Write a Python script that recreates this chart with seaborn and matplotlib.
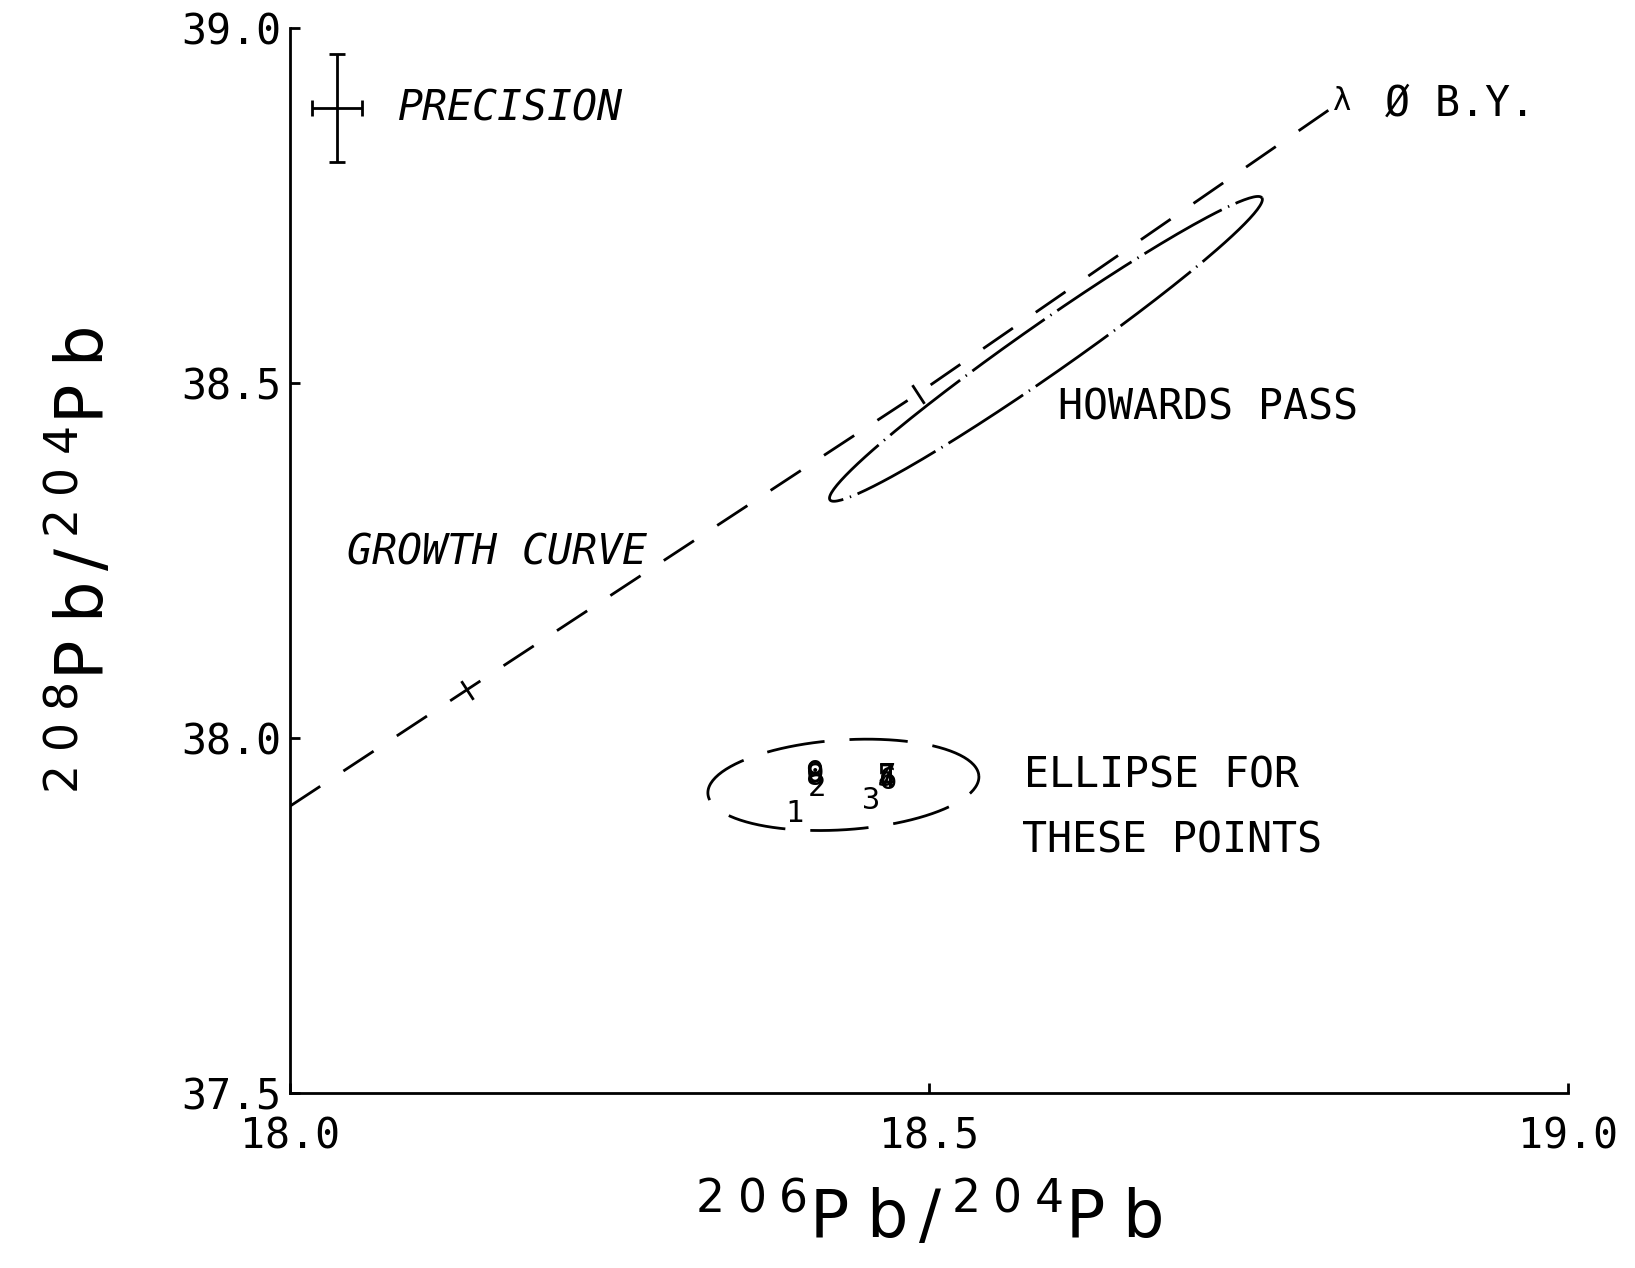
import numpy as np
import pandas as pd
import matplotlib
matplotlib.use("Agg")
import matplotlib.pyplot as plt
import seaborn as sns

# growth curve (206Pb/204Pb, 208Pb/204Pb)
growth_x = [18.0, 18.1385, 18.491, 18.823]
growth_y = [37.904, 38.068, 38.4845, 38.897]
# age ticks on the growth curve
tick_x = [18.1385, 18.491]
tick_y = [38.068, 38.4845]

# Howards Pass ellipse: centre, major half-axis, minor half-axis (data units)
hp_center = [18.5915, 38.548]
hp_major = [0.169, 0.2127]
hp_minor = [0.0112, -0.0289]

# ellipse for the numbered samples
pts_center = [18.433, 37.934]
pts_major = [0.106, 0.013]
pts_minor = [-0.003, 0.063]

# numbered samples
sample_ids = ["1", "2", "3", "4", "5", "6", "7", "8", "9", "0"]
sample_x = [18.395, 18.412, 18.455, 18.467, 18.466, 18.468, 18.467, 18.411, 18.410, 18.411]
sample_y = [37.893, 37.930, 37.912, 37.942, 37.944, 37.940, 37.946, 37.946, 37.948, 37.950]

# precision cross
prec_x, prec_y = 18.0368, 38.887
prec_dx, prec_dy = 0.0196, 0.076

x_ticks = [18.0, 18.5, 19.0]
y_ticks = [37.5, 38.0, 38.5, 39.0]


def ellipse_frame(center, major, minor, n=200):
    t = np.linspace(0, 2 * np.pi, n)
    return pd.DataFrame({
        "x": center[0] + major[0] * np.cos(t) + minor[0] * np.sin(t),
        "y": center[1] + major[1] * np.cos(t) + minor[1] * np.sin(t),
    })


sns.set_theme(style="white")
plt.rcParams.update({
    "font.family": ["DejaVu Sans Mono", "DejaVu Sans"],
    "mathtext.fontset": "dejavusans",
    "text.color": "black",
    "axes.labelcolor": "black",
    "xtick.color": "black",
    "ytick.color": "black",
})

fig = plt.figure(figsize=(16.35, 12.68), dpi=100)
ax = fig.add_axes([0.1774, 0.138, 0.7816, 0.840])

lw = 2.0
growth = pd.DataFrame({"x": growth_x, "y": growth_y})
sns.lineplot(data=growth, x="x", y="y", ax=ax, sort=False, estimator=None,
             color="black", linewidth=lw, linestyle=(0, (13, 10)))
ax.plot(tick_x, tick_y, linestyle="none", marker=(2, 0, 33), markersize=16,
        markeredgewidth=lw, color="black")
ax.text(growth_x[-1], growth_y[-1], "λ", ha="center", va="center", fontsize=22)

hp = ellipse_frame(hp_center, hp_major, hp_minor)
sns.lineplot(data=hp, x="x", y="y", ax=ax, sort=False, estimator=None,
             color="black", linewidth=lw, linestyle=(0, (32, 2.5, 0.5, 2.5)))

pe = ellipse_frame(pts_center, pts_major, pts_minor)
sns.lineplot(data=pe, x="x", y="y", ax=ax, sort=False, estimator=None,
             color="black", linewidth=lw, linestyle=(0, (21, 9)))

for sid, sx, sy in zip(sample_ids, sample_x, sample_y):
    ax.text(sx, sy, sid, ha="center", va="center", fontsize=22, color="black")

ax.errorbar([prec_x], [prec_y], xerr=[prec_dx], yerr=[prec_dy], fmt="none",
            ecolor="black", elinewidth=lw, capsize=6, capthick=lw)

# annotations
ax.text(18.0845, 38.887, "PRECISION", style="italic", fontsize=30, va="center")
ax.text(18.0446, 38.2606, "GROWTH CURVE", style="italic", fontsize=30, va="center")
ax.text(18.601, 38.466, "HOWARDS PASS", fontsize=30, va="center")
ax.text(18.574, 37.947, "ELLIPSE FOR", fontsize=30, va="center")
ax.text(18.573, 37.856, "THESE POINTS", fontsize=30, va="center")
ax.text(18.857, 38.893, "Ø B.Y.", fontsize=30, va="center")

ax.set_xlim(18.0, 19.0)
ax.set_ylim(37.5, 39.0)
ax.set_xticks(x_ticks)
ax.set_yticks(y_ticks)
ax.set_xticklabels([f"{v:.1f}" for v in x_ticks])
ax.set_yticklabels([f"{v:.1f}" for v in y_ticks])
ax.tick_params(direction="in", length=7, width=lw, labelsize=30,
               left=True, bottom=True, colors="black")
ax.tick_params(axis="x", pad=16)
ax.tick_params(axis="y", pad=6)

sns.despine(ax=ax)
for side in ["left", "bottom"]:
    ax.spines[side].set_linewidth(lw)
    ax.spines[side].set_color("black")

ax.set_xlabel(r"$^{2\;0\;6}\mathrm{P\;b}\,/\,^{2\;0\;4}\mathrm{P\;b}$", fontsize=47, labelpad=18)
ax.set_ylabel(r"$^{2\;0\;8}\mathrm{P\;b}\,/\,^{2\;0\;4}\mathrm{P\;b}$", fontsize=47, labelpad=46)

fig.savefig("out.png", dpi=100, facecolor="white")
